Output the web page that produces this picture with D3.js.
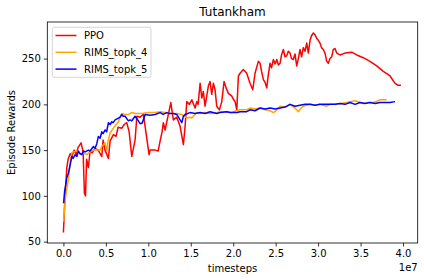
<!DOCTYPE html>
<html><head><meta charset="utf-8">
<script src="https://cdn.jsdelivr.net/npm/d3@7"></script>
<style>body{margin:0;background:#fff}svg{display:block;font-family:"DejaVu Sans",sans-serif}</style>
</head><body><svg id="c" width="424" height="280"></svg>
<script>
// x in units of 1e7 timesteps
const ppoX = [0.00,0.014,0.04,0.055,0.079,0.10,0.126,0.15,0.173,0.208,0.232,0.247,0.26,0.273,0.294,0.314,0.338,0.373,0.41,0.452,0.467,0.49,0.53,0.55,0.589,0.62,0.644,0.688,0.715,0.746,0.774,0.805,0.82,0.844,0.865,0.903,0.942,0.962,0.986,1.009,1.021,1.08,1.115,1.139,1.162,1.177,1.197,1.236,1.265,1.295,1.335,
  1.374,1.413,1.433,1.453,1.484,1.512,1.551,1.571,1.586,1.61,1.63,1.648,1.668,1.688,1.707,1.727,1.747,1.766,1.786,1.806,1.837,1.865,1.892,1.916,1.943,1.983,2.006,2.022,2.042,2.061,2.081,2.119,2.159,2.198,2.230,
  2.257,2.296,2.316,2.334,2.355,2.375,2.395,2.41,2.434,2.451,2.473,2.493,2.513,2.532,2.552,2.569,2.590,2.611,2.630,2.649,2.669,2.687,2.708,2.728,2.748,2.767,2.787,2.805,2.826,2.846,2.866,2.885,2.905,2.922,2.944,2.964,2.984,3.002,3.022,3.04,3.061,3.081,3.101,3.12,3.14,3.16,3.179,3.199,3.219,
  3.258,3.317,3.396,3.455,3.532,3.611,3.69,3.768,3.847,3.906,3.94,3.976];
const ppoY = [60,90,131,140,146,143,150,145,153,158,148,103,100,140,131,149,147,152,150,143,161,150,141,160,167,165,175,174,178,180,170,143,150,161,187,186,189,176,160,145,150,150,149,160,170,180,172,189,202,183,186,
  176,156,176,203,200,205,196,203,200,223,207,214,198,209,220,225,211,223,216,198,194,203,225,218,212,209,205,203,194,231,234,238,234,223,216,
  234,247,245,236,227,224,218,230,245,240,249,244,249,243,245,254,260,252,253,258,256,250,249,255,242,250,260,252,262,258,267,256,270,275,278,276,272,270,267,262,260,256,247,245,250,252,260,261,256,
  254,256,257,254,251,247,242,236,231,223,221,221];
const rims4X = [0.002,0.02,0.04,0.059,0.079,0.099,0.114,0.158,0.197,0.232,0.276,0.314,0.353,0.393,0.432,0.452,0.491,0.511,0.526,0.55,0.589,0.62,0.648,0.668,0.688,0.727,0.765,0.805,0.844,0.923,1.001,1.08,1.139,1.197,1.253,1.335,1.394,1.453,1.492,1.512,1.571,1.61,1.669,1.727,1.806,1.869,1.924,1.975,2.033,2.081,2.159,2.198,2.257,2.316,2.375,2.434,2.473,2.516,2.552,2.611,2.669,2.728,2.767,2.799,2.826,2.905,2.964,3.022,3.101,3.14,3.219,3.27,3.337,3.376,3.435,3.494,3.532,3.587,3.65,3.706,3.729,3.808];
const rims4Y = [72,95,108,118,135,147,148,149,146,147,145,148,150,150,150,154,158,149,160,169,174,178,181,186,190,189,189,191,190,190,191,191,192,191,190,190,189,185,186,185,191,190,191,190,191,192,192,191,193,194,194,196,195,196,194,193,191,194,198,197,200,196,192,196,198,200,199,200,198,200,200,201,202,203,204,202,201,202,202,204,205,205];
const rims5X = [0.002,0.014,0.04,0.059,0.079,0.099,0.114,0.138,0.158,0.177,0.197,0.217,0.235,0.256,0.294,0.314,0.353,0.373,0.393,0.412,0.432,0.452,0.467,0.491,0.509,0.53,0.55,0.57,0.585,0.609,0.648,0.668,0.688,0.703,0.727,0.765,0.785,0.805,0.82,0.844,0.883,0.903,0.923,0.942,0.962,1.021,1.08,1.139,1.174,1.217,1.253,1.295,1.335,1.374,1.394,1.413,1.433,1.492,1.551,1.61,1.669,1.727,1.806,1.845,1.924,1.963,2.042,2.081,2.159,2.198,2.257,2.316,2.375,2.434,2.493,2.552,2.611,2.669,2.728,2.787,2.846,2.905,2.964,3.022,3.081,3.14,3.199,3.258,3.317,3.376,3.435,3.494,3.553,3.611,3.67,3.729,3.788,3.847,3.906];
const rims5Y = [92,105,120,125,134,143,141,145,143,149,146,145,149,148,150,149,154,152,157,165,163,170,168,172,170,180,178,181,180,183,185,186,189,187,187,182,183,182,184,187,182,179,179,183,189,188,189,191,189,191,190,190,189,183,180,187,189,191,190,191,190,192,190,191,192,191,191,192,192,194,193,196,195,196,195,196,197,200,198,199,200,200,199,200,200,200,200,201,200,202,200,202,201,202,201,202,202,202,203];
const series = [
  {name:"PPO", color:"#ff0000", x:ppoX, y:ppoY},
  {name:"RIMS_topk_4", color:"#ffa500", x:rims4X, y:rims4Y},
  {name:"RIMS_topk_5", color:"#0000ff", x:rims5X, y:rims5Y}
];
const xTicks = [0,0.5,1,1.5,2,2.5,3,3.5,4];
const yTicks = [50,100,150,200,250];

const svg = d3.select("#c");
const L=47.3, R=417.7, T=22, B=243;
const x = d3.scaleLinear().domain([-0.19,4.173]).range([L,R]);
const y = d3.scaleLinear().domain([48.5,290]).range([B,T]);

const line = d3.line().x(d=>x(d[0])).y(d=>y(d[1]));
series.forEach(s=>{
  svg.append("path").datum(s.x.map((v,i)=>[v,s.y[i]]))
    .attr("d",line).attr("fill","none").attr("stroke",s.color)
    .attr("stroke-width",1.5).attr("stroke-linejoin","round");
});

svg.append("rect").attr("x",L).attr("y",T).attr("width",R-L).attr("height",B-T)
  .attr("fill","none").attr("stroke","#000").attr("stroke-width",0.8);

const xa = svg.append("g").attr("transform",`translate(0,${B})`)
  .call(d3.axisBottom(x).tickValues(xTicks).tickFormat(d3.format(".1f")).tickSize(3.5).tickPadding(3));
const ya = svg.append("g").attr("transform",`translate(${L},0)`)
  .call(d3.axisLeft(y).tickValues(yTicks).tickSize(3.5).tickPadding(3));
[xa,ya].forEach(a=>{
  a.select(".domain").remove();
  a.selectAll("text").attr("font-size",10).attr("fill","#000").attr("font-family","DejaVu Sans");
  a.selectAll("line").attr("stroke","#000").attr("stroke-width",0.8);
});

svg.append("text").attr("x",(L+R)/2).attr("y",16).attr("text-anchor","middle")
  .attr("font-size",12).text("Tutankham");
svg.append("text").attr("x",(L+R)/2).attr("y",272).attr("text-anchor","middle")
  .attr("font-size",10).text("timesteps");
svg.append("text").attr("x",R).attr("y",271).attr("text-anchor","end")
  .attr("font-size",10).text("1e7");
svg.append("text").attr("transform",`translate(15,${(T+B)/2}) rotate(-90)`).attr("text-anchor","middle")
  .attr("font-size",10).text("Episode Rewards");

const lg = svg.append("g");
lg.append("rect").attr("x",52.3).attr("y",27.3).attr("width",98.7).attr("height",50)
  .attr("rx",2).attr("fill","#fff").attr("fill-opacity",0.8).attr("stroke","#ccc").attr("stroke-width",0.8);
series.forEach((s,i)=>{
  const yy = 35.5 + i*16.8;
  lg.append("line").attr("x1",55.5).attr("x2",76.5).attr("y1",yy).attr("y2",yy)
    .attr("stroke",s.color).attr("stroke-width",1.5);
  lg.append("text").attr("x",84).attr("y",yy+3.6).attr("font-size",10).text(s.name);
});
</script></body></html>
